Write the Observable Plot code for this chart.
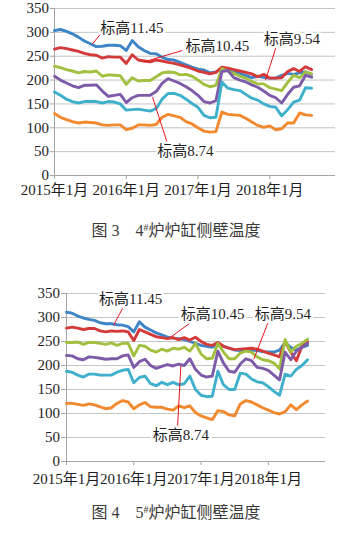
<!DOCTYPE html>
<html><head><meta charset="utf-8">
<script src="https://cdn.jsdelivr.net/npm/d3@7"></script>
<script src="https://cdn.jsdelivr.net/npm/@observablehq/plot@0.6"></script>
<style>
body{margin:0;background:#fff;width:352px;height:537px;position:relative;overflow:hidden;font-family:"Liberation Serif","Times New Roman","DejaVu Serif","Noto Sans CJK SC",serif;}
#c1{position:absolute;left:0;top:0}
#c2{position:absolute;left:0;top:285px}
.cap{position:absolute;left:0;width:352px;text-align:center;font-size:16px;color:#3a3a3a;line-height:20px;}
.cap sup{font-size:10px;vertical-align:top;position:relative;top:-3px;}
svg text{font-family:"Liberation Serif","Times New Roman","DejaVu Serif","Noto Sans CJK SC",serif;}
</style></head><body>
<div id="c1"></div>
<div class="cap" style="top:221px">图 3　4<sup>#</sup>炉炉缸侧壁温度</div>
<div id="c2"></div>
<div class="cap" style="top:503px">图 4　5<sup>#</sup>炉炉缸侧壁温度</div>
<script>
// ---- data ----
const seriesNames = ["标高11.45", "标高10.45", "标高9.54", "标高8.74", "系列5", "系列6"];
const seriesColors = ["#3d85c6", "#d43a3a", "#a2c03f", "#7e5ba8", "#3eb0cb", "#f2892e"];
const xTickLabels = ["2015年1月", "2016年1月", "2017年1月", "2018年1月"];
const yTicks = [0, 50, 100, 150, 200, 250, 300, 350];

// 图3 4#炉 (monthly, 2015-01 .. 2018-08)
const f4_s1 = [304,306,302,297,290,282,276,270,271,273,273,272,262,283,270,262,256,255,248,243,242,237,232,227,223,221,215,217,225,222,218,214,210,205,208,206,204,204,210,214,212,215,217,212];
const f4_s2 = [265,268,266,263,260,256,253,252,246,249,248,248,235,253,242,240,238,242,240,237,235,232,228,224,219,216,213,216,227,225,222,219,216,213,207,212,204,204,205,218,224,218,228,222];
const f4_s3 = [229,226,222,219,215,218,217,219,208,211,210,209,191,205,198,199,199,207,215,217,216,211,212,208,200,191,186,189,224,219,214,208,204,197,192,192,184,181,178,195,210,205,217,213];
const f4_s4 = [208,200,194,188,184,189,189,190,177,166,168,170,153,163,168,168,168,176,193,203,198,193,186,178,168,155,152,157,218,220,205,200,196,190,185,177,168,163,152,170,185,188,210,206];
const f4_s5 = [175,168,160,155,152,155,155,155,152,155,154,150,137,138,139,137,135,140,160,172,172,168,160,151,143,126,121,122,196,183,180,178,170,162,158,150,145,143,125,138,154,158,184,183];
const f4_s6 = [130,122,117,113,110,112,111,110,106,105,106,106,96,99,106,106,105,107,122,128,125,122,113,108,100,93,91,92,133,128,127,126,120,112,105,101,104,96,98,110,110,131,127,126];

// 图4 5#炉
const f5_s1 = [311,309,303,299,296,294,289,287,287,285,284,281,270,291,280,274,268,264,259,257,256,254,250,246,242,240,238,244,240,236,232,231,232,232,231,229,228,228,232,248,238,232,238,242];
const f5_s2 = [278,280,278,275,277,277,272,270,272,271,272,270,252,275,270,265,260,258,256,258,254,258,253,259,250,244,242,248,240,236,233,234,235,236,234,230,226,222,218,250,228,210,240,250];
const f5_s3 = [248,248,249,244,248,248,246,244,247,242,246,246,220,242,240,232,228,234,230,236,234,238,230,246,224,214,215,246,228,214,214,226,230,228,218,212,210,205,193,254,228,240,246,255];
const f5_s4 = [221,220,214,212,218,217,215,213,214,214,220,222,196,208,213,200,194,198,202,199,203,200,214,192,180,176,178,230,205,188,186,203,214,210,196,194,190,180,170,228,212,230,238,246];
const f5_s5 = [188,186,180,176,182,182,180,180,180,186,190,192,164,175,178,162,158,165,160,165,160,162,178,150,138,135,136,188,160,150,150,184,182,172,166,164,156,146,138,182,178,192,200,212];
const f5_s6 = [121,121,119,117,120,118,114,110,112,121,127,124,110,118,123,114,113,113,109,107,116,112,116,102,95,91,87,106,104,97,95,120,127,124,118,112,107,102,99,104,118,108,118,126];

// ---- build ----
function rows(arrs) {
  const out = [];
  arrs.forEach((a, k) => a.forEach((v, i) => out.push({s: seriesNames[k], i, v})));
  return out;
}
const font = '"Liberation Serif","Times New Roman","DejaVu Serif","Noto Sans CJK SC",serif';

function chart(data, ann, o) {
  return Plot.plot({
    width: 352, height: o.height,
    marginLeft: o.ml, marginRight: o.mr, marginTop: 8, marginBottom: o.mb,
    style: {fontFamily: font, fontSize: "15px", color: "#1e1e1e", background: "white", overflow: "visible"},
    x: {domain: [0, o.xmax], label: null},
    y: {domain: [0, 350], label: null},
    color: {domain: seriesNames, range: seriesColors},
    marks: [
      Plot.gridY(yTicks.filter(t => t > 0), {stroke: "#c4c4c4", strokeOpacity: 1, strokeWidth: 1}),
      Plot.ruleY([0], {stroke: "#a6a6a6"}),
      Plot.ruleX([0], {stroke: "#a6a6a6"}),
      Plot.axisY(yTicks, {tickSize: o.yts, tickPadding: 1.5, stroke: "#a6a6a6", fill: "#1e1e1e", fontSize: 15, label: null}),
      Plot.axisX([0, 12, 24, 36], {tickSize: 4, tickPadding: o.xtp, stroke: "#a6a6a6", fill: "#1e1e1e", fontSize: 15, label: null,
        tickFormat: d => xTickLabels[d / 12], dx: o.xdx || 0}),
      Plot.line(data, {x: "i", y: "v", z: "s", stroke: "s", strokeWidth: 2.9, strokeLinejoin: "round", strokeLinecap: "round"}),
      Plot.link(ann, {x1: "lx1", y1: "ly1", x2: "lx2", y2: "ly2", stroke: "#e8141c", strokeWidth: 1}),
      Plot.text(ann, {x: "tx", y: "ty", text: "t", textAnchor: "start", fontSize: 15, fill: "#1e1e1e",
        stroke: "white", strokeWidth: 5, paintOrder: "stroke"})
    ]
  });
}

const ann4 = [
  {t: seriesNames[0], tx: 7.65, ty: 309, lx1: 7.6, ly1: 295, lx2: 6.3, ly2: 275},
  {t: seriesNames[1], tx: 21.9, ty: 271, lx1: 21.4, ly1: 262, lx2: 14.9, ly2: 238},
  {t: seriesNames[2], tx: 35.0, ty: 286, lx1: 37.0, ly1: 267, lx2: 35.3, ly2: 200},
  {t: seriesNames[3], tx: 17.2, ty: 52, lx1: 16.4, ly1: 164, lx2: 18.9, ly2: 67}
];
const ann5 = [
  {t: seriesNames[0], tx: 5.8, ty: 338, lx1: 10.0, ly1: 319, lx2: 8.4, ly2: 284},
  {t: seriesNames[1], tx: 20.4, ty: 307, lx1: 22.2, ly1: 290, lx2: 18.6, ly2: 259},
  {t: seriesNames[2], tx: 33.6, ty: 307, lx1: 35.9, ly1: 288, lx2: 33.4, ly2: 213},
  {t: seriesNames[3], tx: 15.4, ty: 54, lx1: 20.4, ly1: 200, lx2: 19.8, ly2: 71}
];

document.getElementById("c1").append(chart(rows([f4_s1, f4_s2, f4_s3, f4_s4, f4_s5, f4_s6]), ann4,
  {height: 205, ml: 54, mr: 17, mb: 30, xmax: 47, yts: 4, xtp: 5}));
document.getElementById("c2").append(chart(rows([f5_s1, f5_s2, f5_s3, f5_s4, f5_s5, f5_s6]), ann5,
  {height: 206, ml: 66, mr: 27, mb: 30, xmax: 46.2, yts: 5, xtp: 8}));
</script>
</body></html>
